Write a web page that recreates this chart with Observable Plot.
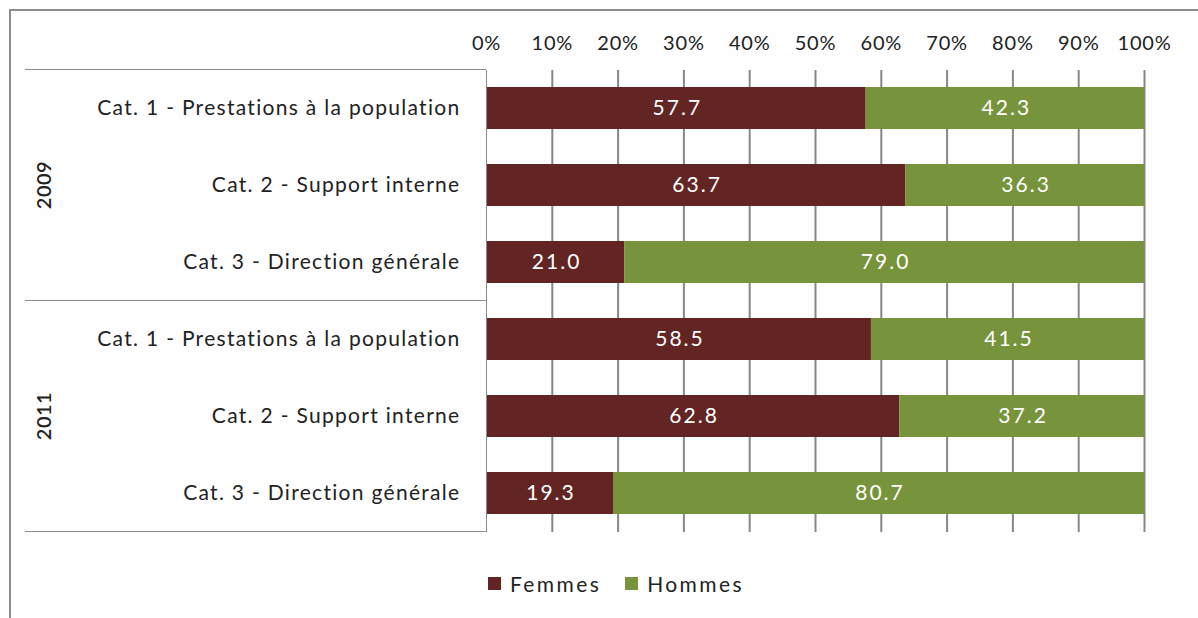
<!DOCTYPE html>
<html>
<head>
<meta charset="utf-8">
<script src="https://cdn.jsdelivr.net/npm/d3@7"></script>
<script src="https://cdn.jsdelivr.net/npm/@observablehq/plot@0.6"></script>
<style>
  html, body { margin: 0; padding: 0; background: #fefefe; }
  #wrap { position: relative; width: 1198px; height: 618px; overflow: hidden; font-family: Lato, "Open Sans", sans-serif; }
  #frame { position: absolute; left: 9px; top: 9px; width: 1300px; height: 700px; border-left: 2px solid #8c8c8c; border-top: 2px solid #8c8c8c; }
  #chart { position: absolute; left: 0; top: 0; }
  #chart svg g[aria-label="y-axis tick label"] text { font-size: 21px; letter-spacing: 1.3px; }
  #chart svg g[aria-label="x-axis tick label"] text { font-size: 20px; letter-spacing: 0.8px; }
  #chart svg g[aria-label="text"] text { letter-spacing: 2px; }
  #legend { position: absolute; left: 488px; top: 571px; display: flex; align-items: center; font-size: 21px; letter-spacing: 2.4px; color: #222; }
  .sw { width: 13px; height: 13px; display: inline-block; margin-right: 9px; }
  .item { display: flex; align-items: center; margin-right: 24px; }
</style>
</head>
<body>
<div id="wrap">
  <div id="frame"></div>
  <div id="chart"></div>
  <div id="legend"></div>
</div>
<script>
const categories = ["Cat. 1 - Prestations à la population", "Cat. 2 - Support interne", "Cat. 3 - Direction générale"];
const years = ["2009", "2011"];
const series = ["Femmes", "Hommes"];
const colors = ["#632523", "#77933C"];
const femmes = [57.7, 63.7, 21.0, 58.5, 62.8, 19.3];
const hommes = [42.3, 36.3, 79.0, 41.5, 37.2, 80.7];
const xTicks = [0, 10, 20, 30, 40, 50, 60, 70, 80, 90, 100];

const keys = [];
years.forEach(y => categories.forEach(c => keys.push(y + "|" + c)));
const data = [];
keys.forEach((k, i) => {
  data.push({key: k, sex: series[0], value: femmes[i]});
  data.push({key: k, sex: series[1], value: hommes[i]});
});

const W = 1198, H = 560;
const chart = Plot.plot({
  width: W,
  height: H,
  marginLeft: 486,
  marginRight: 54,
  marginTop: 70,
  marginBottom: 28,
  style: {fontFamily: "Lato, 'Open Sans', sans-serif", fontSize: "20px", color: "#222", background: "transparent"},
  x: {domain: [0, 100], axis: "top", ticks: xTicks, tickFormat: d => d + "%", tickSize: 0, tickPadding: 21, label: null},
  y: {domain: keys, paddingInner: 0.45, paddingOuter: 0.225, tickSize: 0, tickPadding: 26, tickFormat: d => d.split("|")[1], label: null},
  color: {domain: series, range: colors},
  marks: [
    Plot.ruleX(xTicks.slice(1), {stroke: "#878787", strokeWidth: 2}),
    Plot.barX(data, Plot.stackX({x: "value", y: "key", fill: "sex", z: "sex"})),
    Plot.ruleX([0], {stroke: "#8c8c8c", strokeWidth: 1}),
    Plot.text(data, Plot.stackX({x: "value", y: "key", z: "sex", text: d => d.value.toFixed(1), fill: "white", fontSize: 21, dx: 1}))
  ]
});
document.getElementById("chart").appendChild(chart);

// table lines and year labels on the left
const ys = chart.scale("y");
const svg = d3.select(chart);
const bw = ys.bandwidth || 0;
const step = ys.step;
const g = svg.append("g");
const x0 = chart.scale("x").apply(0);
const centerOf = k => ys.apply(k) + bw / 2;
const topOf = k => centerOf(k) - step / 2;
const botOf = k => centerOf(k) + step / 2;
const lines = [topOf(keys[0]), botOf(keys[2]), botOf(keys[5])];
lines.forEach(yy => {
  g.append("line").attr("x1", 25).attr("x2", x0).attr("y1", yy).attr("y2", yy)
    .attr("stroke", "#8c8c8c").attr("stroke-width", 1);
});
years.forEach((yr, i) => {
  const cy = (centerOf(keys[i * 3]) + centerOf(keys[i * 3 + 2])) / 2;
  g.append("text").attr("transform", `translate(51,${cy}) rotate(-90)`)
    .attr("text-anchor", "middle").attr("font-size", 20).attr("font-weight", 600)
    .attr("letter-spacing", 0.5).attr("fill", "#222").text(yr);
});

// legend
const leg = document.getElementById("legend");
series.forEach((s, i) => {
  const it = document.createElement("div");
  it.className = "item";
  it.innerHTML = `<span class="sw" style="background:${colors[i]}"></span><span>${s}</span>`;
  leg.appendChild(it);
});
</script>
</body>
</html>
